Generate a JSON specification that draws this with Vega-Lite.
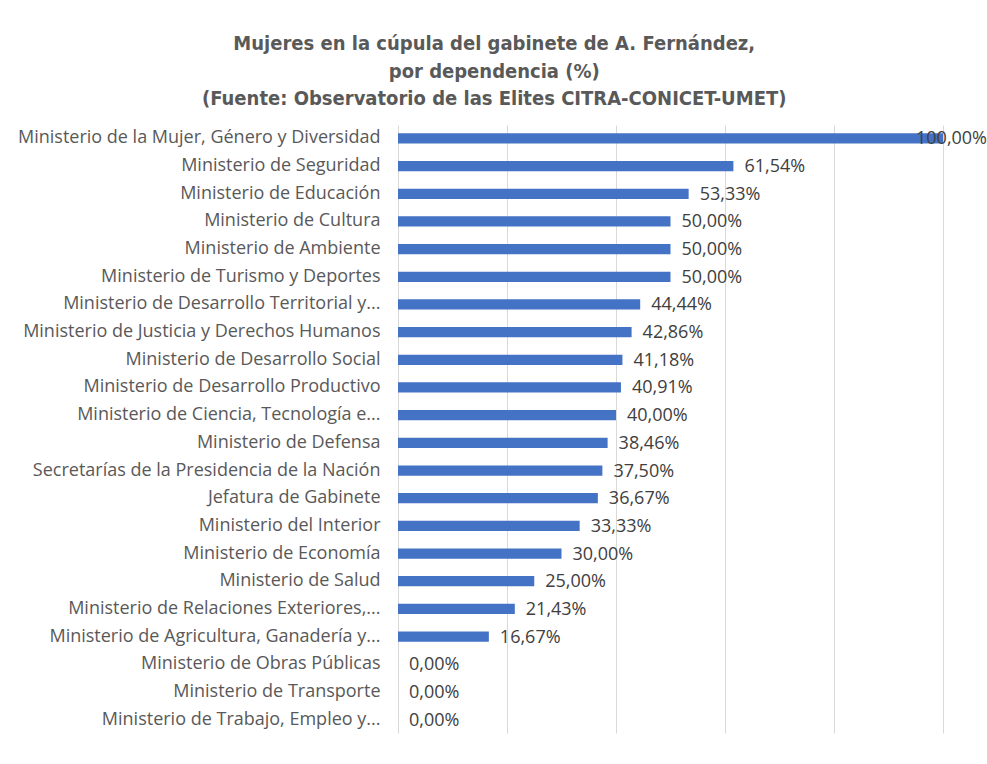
{
  "$schema": "https://vega.github.io/schema/vega-lite/v6.json",
  "width": 545,
  "height": 608,
  "padding": {"left": 17, "top": 34, "right": 0, "bottom": 27},
  "background": "white",
  "title": {
    "text": ["Mujeres en la cúpula del gabinete de A. Fernández,", "por dependencia (%)", "(Fuente: Observatorio de las Elites CITRA-CONICET-UMET)"],
    "anchor": "middle",
    "frame": "bounds",
    "font": "Liberation Sans Narrow, DejaVu Sans Condensed, sans-serif",
    "fontSize": 20,
    "fontWeight": "bold",
    "color": "#595959",
    "lineHeight": 27.5,
    "offset": 16,
    "dx": -8
  },
  "data": {
    "values": [
      {"name": "Ministerio de la Mujer, Género y Diversidad", "pct": 100.0, "label": "100,00%"},
      {"name": "Ministerio de Seguridad", "pct": 61.54, "label": "61,54%"},
      {"name": "Ministerio de Educación", "pct": 53.33, "label": "53,33%"},
      {"name": "Ministerio de Cultura", "pct": 50.0, "label": "50,00%"},
      {"name": "Ministerio de Ambiente", "pct": 50.0, "label": "50,00%"},
      {"name": "Ministerio de Turismo y Deportes", "pct": 50.0, "label": "50,00%"},
      {"name": "Ministerio de Desarrollo Territorial y...", "pct": 44.44, "label": "44,44%"},
      {"name": "Ministerio de Justicia y Derechos Humanos", "pct": 42.86, "label": "42,86%"},
      {"name": "Ministerio de Desarrollo Social", "pct": 41.18, "label": "41,18%"},
      {"name": "Ministerio de Desarrollo Productivo", "pct": 40.91, "label": "40,91%"},
      {"name": "Ministerio de Ciencia, Tecnología e...", "pct": 40.0, "label": "40,00%"},
      {"name": "Ministerio de Defensa", "pct": 38.46, "label": "38,46%"},
      {"name": "Secretarías de la Presidencia de la Nación", "pct": 37.5, "label": "37,50%"},
      {"name": "Jefatura de Gabinete", "pct": 36.67, "label": "36,67%"},
      {"name": "Ministerio del Interior", "pct": 33.33, "label": "33,33%"},
      {"name": "Ministerio de Economía", "pct": 30.0, "label": "30,00%"},
      {"name": "Ministerio de Salud", "pct": 25.0, "label": "25,00%"},
      {"name": "Ministerio de Relaciones Exteriores,...", "pct": 21.43, "label": "21,43%"},
      {"name": "Ministerio de Agricultura, Ganadería y...", "pct": 16.67, "label": "16,67%"},
      {"name": "Ministerio de Obras Públicas", "pct": 0.0, "label": "0,00%"},
      {"name": "Ministerio de Transporte", "pct": 0.0, "label": "0,00%"},
      {"name": "Ministerio de Trabajo, Empleo y...", "pct": 0.0, "label": "0,00%"}
    ]
  },
  "encoding": {
    "y": {
      "field": "name",
      "type": "nominal",
      "sort": null,
      "title": null,
      "scale": {"paddingInner": 0.63, "paddingOuter": 0.3},
      "axis": {
        "domain": false,
        "ticks": false,
        "labelFont": "Open Sans",
        "labelFontSize": 18,
        "labelColor": "#595959",
        "labelPadding": 18,
        "labelLimit": 600
      }
    },
    "x": {
      "field": "pct",
      "type": "quantitative",
      "title": null,
      "scale": {"domain": [0, 100], "nice": false},
      "axis": {
        "values": [0, 20, 40, 60, 80, 100],
        "labels": false,
        "ticks": false,
        "domain": false,
        "grid": true,
        "gridColor": "#d9d9d9",
        "gridWidth": 1
      }
    }
  },
  "layer": [
    {"mark": {"type": "bar", "color": "#4472C4"}},
    {
      "transform": [{"filter": "datum.pct < 100"}],
      "mark": {"type": "text", "align": "left", "baseline": "middle", "dx": 11, "dy": 1, "font": "Open Sans", "fontSize": 18, "color": "#404040"},
      "encoding": {"text": {"field": "label"}}
    },
    {
      "transform": [{"filter": "datum.pct >= 100"}],
      "mark": {"type": "text", "align": "left", "baseline": "middle", "dx": -27, "dy": 1, "font": "Open Sans", "fontSize": 18, "color": "#404040"},
      "encoding": {"text": {"field": "label"}}
    }
  ],
  "config": {"view": {"stroke": null}}
}
